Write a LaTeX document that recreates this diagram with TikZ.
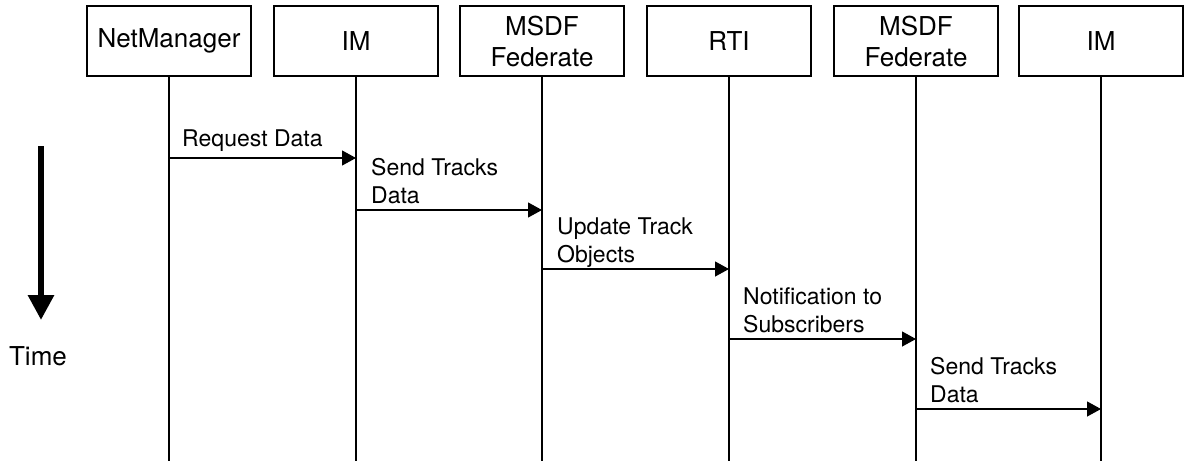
\documentclass[tikz,border=0pt]{standalone}
\usepackage{fontspec}
\setmainfont{TeX Gyre Heros}
\usetikzlibrary{arrows.meta}
\begin{document}
\begin{tikzpicture}[x=1pt,y=-1pt,
  actor/.style={draw, line width=1.2pt, minimum width=164pt, minimum height=70pt,
    inner sep=0pt, align=center, font=\fontsize{26}{31}\selectfont},
  life/.style={line width=1.2pt},
  msg/.style={line width=1.2pt, -{Triangle[length=14pt,width=15pt]}},
  msglabel/.style={inner sep=0pt, anchor=base west, align=left,
    font=\fontsize{23}{28}\selectfont},
  timearrow/.style={line width=6pt, -{Triangle[length=25pt,width=25pt]}},
]
\useasboundingbox (0,0) rectangle (1184,461);

% participants
\node[actor] (nm)   at (169,41)  {NetManager};
\node[actor] (im1)  at (356,41)  {IM};
\node[actor] (fed1) at (542,41)  {MSDF\\Federate};
\node[actor] (rti)  at (729,41)  {RTI};
\node[actor] (fed2) at (916,41)  {MSDF\\Federate};
\node[actor] (im2)  at (1101,41) {IM};

% lifelines
\coordinate (bot) at (0,461);
\foreach \p in {nm,im1,fed1,rti,fed2,im2}
  \draw[life] (\p.south) -- (\p.south |- bot);

% message rows
\coordinate (r1) at (0,158);
\coordinate (r2) at (0,210);
\coordinate (r3) at (0,269);
\coordinate (r4) at (0,339);
\coordinate (r5) at (0,409);

\draw[msg] (nm.south |- r1)   -- (im1.south |- r1);
\draw[msg] (im1.south |- r2)  -- (fed1.south |- r2);
\draw[msg] (fed1.south |- r3) -- (rti.south |- r3);
\draw[msg] (rti.south |- r4)  -- (fed2.south |- r4);
\draw[msg] (fed2.south |- r5) -- (im2.south |- r5);

% message labels (anchored at the baseline of their last line)
\node[msglabel] (l1) at (182,146) {Request Data};
\node[msglabel] (l2) at (371,203) {Send Tracks\\Data};
\node[msglabel] (l3) at (557,262) {Update Track\\Objects};
\node[msglabel] (l4) at (743,332) {Notification to\\Subscribers};
\node[msglabel] (l5) at (930,402) {Send Tracks\\Data};

% time axis
\coordinate (tstart) at (41,146);
\coordinate (tend)   at (41,320);
\draw[timearrow] (tstart) -- (tend);
\node[anchor=base, inner sep=0pt, font=\fontsize{26}{31}\selectfont] (tlabel) at (38,365) {Time};
\end{tikzpicture}
\end{document}
